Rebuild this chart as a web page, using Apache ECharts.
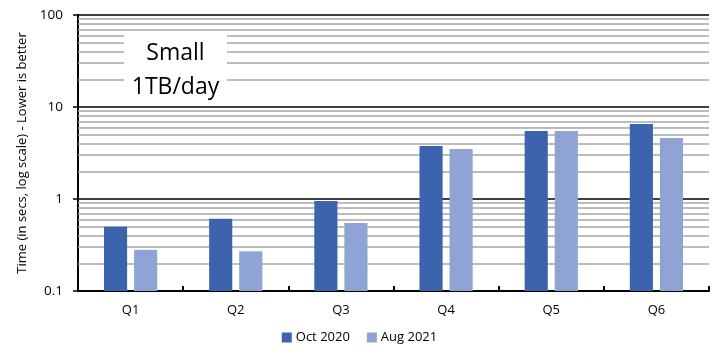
<!DOCTYPE html>
<html><head><meta charset="utf-8">
<script src="https://cdn.jsdelivr.net/npm/echarts@6/dist/echarts.min.js"></script>
<style>html,body{margin:0;padding:0;background:#fff}#c{width:719px;height:360px}</style>
</head><body><div id="c"></div>
<script>
const categories = ['Q1','Q2','Q3','Q4','Q5','Q6'];
const oct2020 = [0.50, 0.61, 0.95, 3.77, 5.48, 6.55];
const aug2021 = [0.28, 0.27, 0.55, 3.50, 5.50, 4.60];
const seriesNames = ['Oct 2020', 'Aug 2021'];
const minorGridValues = [0.2,0.3,0.4,0.5,0.6,0.7,0.8,0.9,2,3,4,5,6,7,8,9,20,30,40,50,60,70,80,90];
const yAxisTitle = 'Time (in secs, log scale) - Lower is better';
const boxLines = ['Small', '1TB/day'];

const font = 'Open Sans, Liberation Sans, sans-serif';
const chart = echarts.init(document.getElementById('c'), null, {renderer:'canvas'});
chart.setOption({
  animation: false,
  grid: {left: 78, right: 10, top: 15, bottom: 69, containLabel: false},
  legend: {
    data: seriesNames, bottom: 11, left: 'center', itemWidth: 10, itemHeight: 10, itemGap: 17,
    icon: 'rect', textStyle: {fontFamily: font, fontSize: 13, color: '#000', padding:[0,0,0,-1]}
  },
  xAxis: {
    type: 'category', data: categories,
    axisLine: {onZero: false, lineStyle: {color: '#000', width: 2}},
    axisTick: {show: true, inside: true, length: 5, alignWithLabel: false, lineStyle: {color:'#000', width: 2}},
    axisLabel: {fontFamily: font, fontSize: 13, color: '#000', margin: 13},
    splitLine: {show: false}
  },
  yAxis: {
    type: 'log', logBase: 10, min: 0.1, max: 100, startValue: 0.1,
    name: yAxisTitle, nameLocation: 'middle', nameGap: 49,
    nameTextStyle: {fontFamily: font, fontSize: 13, color: '#000'},
    axisLine: {show: true, lineStyle: {color: '#000', width: 2}},
    axisTick: {show: true, inside: false, length: 5, lineStyle: {color:'#000', width: 1.5}},
    axisLabel: {fontFamily: font, fontSize: 13.5, color: '#000', margin: 15,
      formatter: v => String(v)},
    splitLine: {show: true, lineStyle: {color: '#000', width: 1.5}}
  },
  series: [
    {
      name: seriesNames[0], type: 'bar', data: oct2020, barWidth: '22%', barGap: '30%',
      itemStyle: {color: '#3C64AC'}, z: 3,
      markLine: {
        silent: true, symbol: 'none', z: 1,
        label: {show: false},
        lineStyle: {color: '#A6A6A6', width: 1.5, type: 'solid'},
        data: minorGridValues.map(v => ({yAxis: v}))
      }
    },
    {
      name: seriesNames[1], type: 'bar', data: aug2021, barWidth: '22%', barGap: '30%',
      itemStyle: {color: '#8FA3D4'}, z: 3
    }
  ],
  graphic: [
    {type: 'rect', shape: {x: 124, y: 33, width: 103, height: 67}, style: {fill: '#fff'}, z: 50},
    {type: 'text', left: 124, top: 36, z: 51,
      style: {text: boxLines.join('\n'), width: 103, align: 'center', x: 175.5, textAlign: 'center',
        fontFamily: font, fontSize: 23, lineHeight: 34, fill: '#000'}}
  ]
});
</script></body></html>
